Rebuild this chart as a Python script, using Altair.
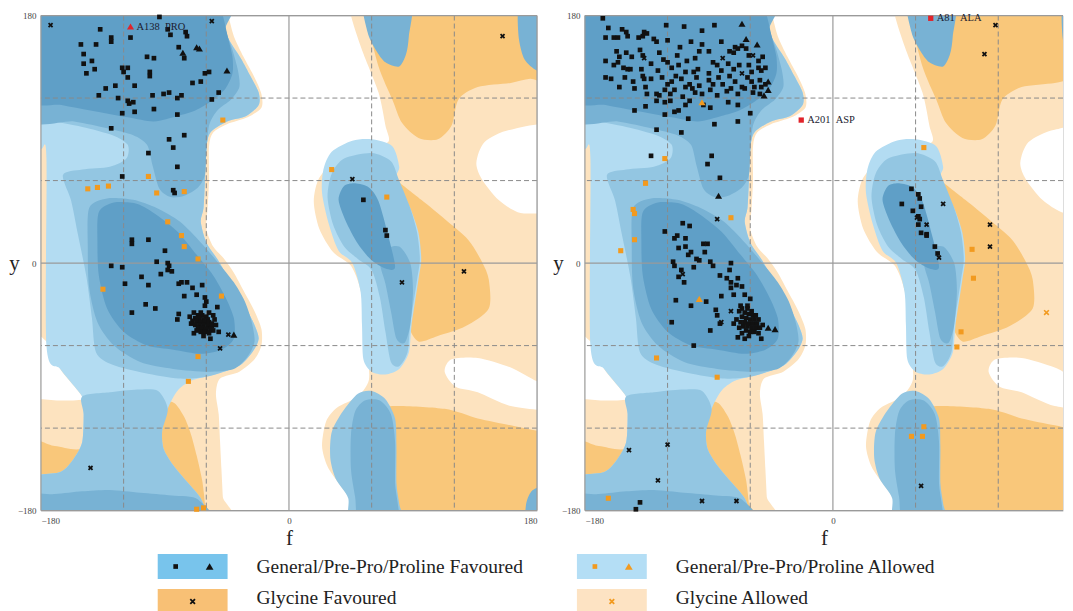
import altair as alt
import pandas as pd

FONT = "Liberation Serif"
C1, C2, C3, C4 = "#b3dcf2", "#93c6e2", "#78b2d4", "#5f9fc7"
PEACH, ORANGE_BG, WHITE = "#fde3bf", "#f9c77a", "#ffffff"
BLACK, ORANGE, RED = "#111111", "#f29a1f", "#e1232a"
SW1, SW2, SW3, SW4 = "#78c4ec", "#b4def5", "#f8c075", "#fde3c3"

# ---------------- background contour regions (phi, psi in degrees) ----------------
gly_allowed_right = [(45,192),(45,180),(53,155),(65,124),(70,100),(72,88),(55,83),(35,75),(22,62),(18,45),(22,25),(32,8),(45,-2),(52,-20),(55,-45),(57,-65),(58,-85),(50,-97),(35,-105),(27,-115),(24,-133),(28,-148),(36,-160),(45,-172),(51,-180),(52,-192),(192,-192),(192,192)]
gly_allowed_left = [(-192,192),(-47,192),(-44,180),(-40,165),(-33,150),(-25,135),(-20,123),(-20,113),(-30,106),(-45,101),(-55,95),(-58,85),(-58,60),(-59,40),(-60,25),(-55,12),(-47,3),(-40,-7),(-33,-20),(-25,-35),(-20,-48),(-20,-60),(-25,-70),(-36,-79),(-50,-84),(-53,-95),(-51,-110),(-50,-130),(-49,-150),(-48,-170),(-47,-192),(-192,-192)]
hole_1 = [(192,97),(161,97),(142,88),(136,73),(140,61),(152,46),(166,37),(180,36),(192,36)]
hole_2 = [(113,-79),(118,-70),(137,-69),(161,-76),(180,-86),(192,-88),(192,-106),(161,-104),(137,-94),(121,-90)]
hole_left = [(-192,-50),(-176,-57),(-166,-77),(-153,-93),(-150,-99),(-165,-100),(-180,-99),(-192,-99)]
gly_fav_top = [(56,192),(56,180),(65,143),(75,119),(82,102),(94,91),(108,90),(118,100),(123,119),(137,128),(161,131),(175,134),(192,134),(192,192)]
gly_fav_mid = [(65,65),(75,62),(96,46),(113,32),(130,17),(140,1),(145,-12),(145,-33),(128,-46),(108,-53),(94,-57),(87,-46),(86,-26),(80,-15),(60,-20),(50,0),(50,40)]
gly_fav_bot = [(75,-104),(113,-106),(137,-113),(161,-118),(180,-122),(192,-123),(192,-192),(60,-192),(60,-110)]
gly_fav_left = [(-92,-100),(-83,-102),(-76,-112),(-71,-125),(-67,-140),(-63,-158),(-61,-175),(-60,-192),(-192,-192),(-192,-131),(-170,-133),(-150,-135),(-120,-120),(-100,-104)]

gen_c1_left = [(-190,192),(-51,192),(-50,180),(-45,165),(-35,149),(-28,136),(-22,124),(-22,115),(-31,107),(-45,103),(-57,95),(-60,83),(-61,59),(-62,40),(-64,30),(-60,15),(-52,3),(-45,-9),(-38,-21),(-31,-33),(-25,-45),(-22,-55),(-26,-64),(-35,-74),(-50,-80),(-62,-83),(-72,-86),(-81,-93),(-88,-106),(-92,-122),(-91,-135),(-84,-147),(-74,-159),(-64,-171),(-60,-183),(-60,-192),(-192,-192),(-192,-158),(-166,-152),(-156,-142),(-150,-130),(-149,-110),(-150,-98),(-153,-93),(-166,-77),(-176,-60),(-176,76),(-180,83),(-192,85)]
gen_c1_blob = [(60,90),(75,85),(80,70),(78,61),(88,40),(94,22),(96,3),(94,-12),(89,-45),(87,-65),(80,-77),(70,-81),(60,-79),(54,-70),(53,-45),(52,-21),(46,0),(36,9),(29,28),(24,51),(25,68),(31,81),(46,89)]
gen_c2_beta = [(-192,192),(-51,192),(-50,180),(-45,165),(-35,149),(-28,136),(-22,124),(-22,115),(-31,107),(-45,103),(-57,95),(-60,83),(-61,59),(-62,40),(-64,30),(-60,15),(-52,3),(-45,-9),(-38,-21),(-31,-33),(-25,-45),(-22,-55),(-26,-64),(-35,-74),(-50,-80),(-62,-83),(-80,-84),(-105,-80),(-128,-74),(-140,-65),(-143,-40),(-147,-10),(-153,20),(-158,45),(-164,64),(-150,68),(-130,70),(-118,76),(-117,86),(-128,93),(-150,99),(-176,104),(-192,106)]
gen_c2_bottom = [(-150,-97),(-130,-94),(-110,-92),(-95,-93),(-88,-106),(-92,-122),(-91,-135),(-84,-147),(-74,-159),(-64,-171),(-60,-183),(-60,-192),(-192,-192),(-192,-158),(-166,-152),(-156,-142),(-150,-130),(-149,-110)]
gen_c2_blob = [(40,76),(60,80),(74,74),(80,60),(88,40),(93,22),(95,3),(93,-12),(88,-45),(86,-65),(80,-75),(74,-72),(70,-50),(66,-25),(60,-5),(50,3),(40,12),(32,28),(28,48),(31,65)]
gen_c2_low = [(50,-95),(60,-93),(70,-99),(77,-113),(78,-133),(78,-160),(80,-175),(82,-192),(45,-192),(43,-171),(34,-157),(30,-142),(31,-123),(39,-108)]
gen_c3_beta = [(-192,192),(-50,192),(-46,170),(-41,155),(-37,140),(-36,128),(-42,119),(-52,111),(-58,100),(-60,80),(-61,64),(-66,55),(-76,49),(-86,48),(-94,54),(-99,71),(-103,86),(-113,93),(-132,98),(-156,103),(-192,107)]
gen_c3_alpha = [(-145,40),(-132,47),(-113,46),(-96,40),(-79,30),(-64,15),(-52,1),(-40,-14),(-32,-28),(-27,-43),(-25,-57),(-30,-68),(-40,-77),(-59,-79),(-84,-77),(-108,-72),(-127,-60),(-139,-43),(-145,-18),(-146,11)]
gen_c3_bottom = [(-192,-169),(-170,-168),(-150,-166),(-130,-165),(-108,-167),(-85,-169),(-66,-172),(-61,-192),(-192,-192)]
gen_c3_blob = [(70,10),(80,12),(88,0),(90,-20),(88,-45),(84,-58),(78,-55),(74,-35),(70,-15),(66,0)]
gen_c3_low = [(55,-100),(66,-100),(74,-110),(77,-130),(77,-160),(79,-192),(52,-192),(48,-170),(45,-150),(45,-125),(48,-108)]
gen_c3_top = [(55,192),(88,192),(87,165),(85,152),(80,143),(70,146),(63,155),(57,168)]
gen_c3_wrap_top = [(168,192),(166,180),(167,162),(171,148),(180,140),(192,139),(192,192)]
gen_c3_wrap_bot = [(173,-192),(172,-176),(176,-166),(184,-162),(192,-162),(192,-192)]
gen_c4_beta = [(-192,192),(-52,192),(-48,180),(-44,163),(-41,150),(-41,138),(-46,127),(-56,118),(-68,111),(-81,107),(-98,103),(-117,106),(-144,111),(-165,115),(-192,121)]
gen_c4_alpha = [(-138,37),(-127,44),(-110,43),(-96,35),(-81,23),(-67,6),(-55,-9),(-46,-25),(-40,-40),(-40,-55),(-49,-63),(-64,-66),(-84,-63),(-103,-60),(-120,-50),(-132,-33),(-138,-9),(-139,15)]
gen_c4_blob = [(48,58),(58,55),(65,45),(72,20),(77,-3),(70,-4),(60,2),(50,14),(41,31),(36,46),(40,56)]

regions = [
    ("gly_allowed", PEACH, [gly_allowed_right, gly_allowed_left]),
    ("holes", WHITE, [hole_1, hole_2, hole_left]),
    ("gly_fav", ORANGE_BG, [gly_fav_top, gly_fav_mid, gly_fav_bot, gly_fav_left]),
    ("c1", C1, [gen_c1_left, gen_c1_blob]),
    ("c2", C2, [gen_c2_beta, gen_c2_bottom, gen_c2_blob, gen_c2_low]),
    ("c3", C3, [gen_c3_beta, gen_c3_alpha, gen_c3_bottom, gen_c3_blob, gen_c3_low, gen_c3_top, gen_c3_wrap_top, gen_c3_wrap_bot]),
    ("c4", C4, [gen_c4_beta, gen_c4_alpha, gen_c4_blob]),
]

# ---------------- residues, left panel ----------------
p1_fav_gen = [(-137,170),(-115,164),(-129,164),(-129,161),(-151,159),(-140,159),(-149,152),(-143,147),(-149,145),(-141,141),(-147,138),(-121,142),(-117,142),(-120,139),(-117,135),(-103,150),(-98,149),(-101,139),(-101,136),(-88,170),(-86,166),(-75,168),(-74,165),(-80,157),(-76,149),(-61,138),(-58,139),(-70,131),(-64,132),(-126,129),(-133,127),(-138,122),(-112,129),(-124,120),(-117,118),(-116,116),(-113,117),(-99,122),(-91,123),(-87,124),(-78,122),(-81,120),(-51,124),(-56,119),(-121,109),(-112,110),(-98,112),(-81,108),(-129,98),(-87,90),(-76,93),(-84,84),(-102,80),(-81,70),(-121,63),(-84,53),(-83,51),(-94,179),
    (-114,17),(-114,14),(-102,17),(-90,9),(-96,1),(-88,0),(-87,-2),(-88,-5),(-85,-6),(-129,-2),(-121,-3),(-107,-10),(-102,-16),(-93,-8),(-119,-15),(-80,-15),(-78,-14),(-74,-14),(-63,-16),(-70,-18),(-67,-23),(-76,-24),(-61,-25),(-104,-30),(-97,-33),(-114,-36),(-80,-37),(-81,-41),(-52,-32),(-61,-31),(-60,-28),(-69,-51),(-55,-49),(-57,-55),(-51,-50),
    (-66,-38),(-63,-38),(-60,-39),(-68,-40),(-65,-40),(-62,-41),(-59,-41),(-70,-42),(-67,-42),(-64,-43),(-61,-43),(-58,-43),(-56,-44),(-71,-44),(-68,-45),(-65,-45),(-62,-45),(-59,-46),(-56,-46),(-66,-47),(-63,-47),(-60,-48),(-57,-48),(-64,-50),(-61,-50),(-67,-49),(-58,-51),(-62,-53),(-72,-39),(-54,-41),(-64,-36),(-58,-36),(-69,-36),(-55,-38),(-53,-45),
    (54,46),(70,24),(71,20)]
p1_fav_pro = [(-77,153),(-67,157),(-65,156),(-45,140),(-40,-52)]
p1_fav_gly = [(-173,173),(-56,176),(-44,-52),(-50,-62),(-144,-149),(46,61),(155,165),(82,-14),(127,-6)]
p1_alw_gen = [(-48,104),(-102,63),(-146,54),(-139,55),(-131,56),(-96,51),(-76,52),(-88,30),(-78,20),(-76,12),(-66,3),(-135,-19),(-49,-24),(-66,-68),(-73,-86),(-67,-179),(-62,-178),(31,68),(71,48)]
p1_alw_pro = []
p1_alw_gly = []
p1_out_gen = []
p1_out_pro = [(-115,172)]
p1_out_labels = ["A138\u00a0\u00a0PRO"]

# ---------------- residues, right panel ----------------
p2_fav_gen = [(-167,178),(-163,171),(-153,170),(-150,168),(-137,168),(-135,167),(-121,173),(-108,172),(-95,169),(-86,173),
    (-165,164),(-159,164),(-156,164),(-149,165),(-141,164),(-138,165),(-130,163),(-128,161),(-120,162),(-111,157),(-103,161),(-95,159),(-81,161),(-71,157),(-66,158),(-63,156),
    (-157,154),(-155,150),(-150,153),(-146,150),(-140,155),(-138,151),(-126,153),(-123,148),(-113,151),(-106,147),(-100,149),(-97,154),(-90,154),(-87,146),(-75,154),(-72,153),(-69,156),(-61,151),(-54,147),(-51,150),
    (-165,147),(-159,144),(-156,146),(-152,142),(-149,141),(-147,141),(-139,141),(-138,136),(-132,145),(-127,140),(-120,146),(-117,142),(-112,144),(-107,139),(-101,139),(-98,141),(-90,138),(-84,144),(-81,140),(-76,145),(-72,141),(-68,144),(-61,144),(-59,139),(-54,142),(-52,140),(-49,142),
    (-165,135),(-161,134),(-155,128),(-151,135),(-145,132),(-137,134),(-136,128),(-132,134),(-124,135),(-120,130),(-117,132),(-114,136),(-110,134),(-107,128),(-104,130),(-99,135),(-97,129),(-90,133),(-87,130),(-83,135),(-80,130),(-75,136),(-71,132),(-66,128),(-62,135),(-59,132),(-57,128),(-53,133),(-49,130),
    (-144,127),(-135,123),(-128,123),(-126,122),(-122,126),(-118,123),(-115,126),(-109,121),(-102,127),(-100,124),(-95,123),(-89,126),(-84,122),(-77,125),(-74,127),(-69,123),(-64,127),(-58,124),(-53,123),(-52,128),
    (-144,111),(-136,114),(-128,118),(-122,117),(-118,118),(-115,110),(-112,111),(-107,115),(-104,118),(-94,115),(-89,113),(-76,117),(-69,115),(-60,109),
    (-128,97),(-122,108),(-110,95),(-105,105),(-86,101),(-69,103),(-132,78),(-88,78),(-91,72),(-82,62),
    (-109,29),(-104,27),(-122,23),(-113,20),(-115,18),(-107,18),(-107,12),(-103,8),(-112,11),(-105,6),(-99,3),(-94,14),(-91,14),(-93,8),(-116,1),(-115,-2),(-110,-5),(-112,-10),(-108,-14),(-101,-3),(-97,2),(-89,1),(-87,-2),(-82,-9),(-74,0),(-75,-5),(-77,-11),(-74,-14),(-69,-11),(-70,-16),(-66,-17),(-74,-18),(-72,-23),(-64,-23),(-60,-26),(-66,-33),(-62,-31),(-114,-27),(-103,-31),(-92,-28),(-81,-24),(-84,-38),(-82,-44),(-117,-43),(-89,-49),(-69,-54),(-52,-55),(-101,-60),(-85,-34),(-54,-41),(-51,-45),
    (-68,-35),(-64,-36),(-61,-37),(-58,-38),(-66,-39),(-63,-40),(-60,-41),(-57,-41),(-70,-41),(-67,-43),(-64,-43),(-61,-44),(-58,-44),(-55,-44),(-65,-46),(-62,-46),(-59,-47),(-56,-47),(-68,-47),(-63,-49),(-60,-50),(-57,-50),(-66,-51),(-61,-53),(-53,-47),(-72,-44),(-56,-38),(-62,-33),(-67,-31),(-59,-35),(-54,-51),(-64,-55),
    (-140,-174),(-143,-179),
    (57,54),(50,43),(62,50),(63,47),(64,41),(58,38),(62,34),(63,32),(62,28),(64,22),(68,21),(68,20),(74,12),(76,7)]
p2_fav_pro = [(-66,174),(-63,163),(-55,159),(-47,132),(-47,126),(-50,122),(-83,49),(-47,-47),(-42,-48)]
p2_fav_gly = [(-137,149),(-80,149),(-58,151),(-66,138),(-84,32),(-74,-35),(-81,-43),(-109,-8),(-148,-136),(-120,-132),(-127,-158),(-95,-173),(-70,-173),(118,173),(110,152),(61,33),(68,28),(80,43),(77,4),(114,28),(114,12),(64,-162)]
p2_alw_gen = [(-122,76),(-136,58),(-145,39),(-144,36),(-144,17),(-154,9),(-74,33),(-128,-69),(-84,-83),(-163,-171),(66,84),(101,10),(102,-11),(93,-50),(90,-61),(66,-119),(57,-126),(65,-126)]
p2_alw_pro = [(-95,117),(-97,-26)]
p2_alw_gly = [(155,-36)]
p2_out_gen = [(71,178),(-23,104)]
p2_out_pro = []
p2_out_labels = ["A81\u00a0\u00a0ALA", "A201\u00a0\u00a0ASP"]

# ---------------- legend ----------------
legend_labels = ["General/Pre-Pro/Proline Favoured", "General/Pre-Pro/Proline Allowed", "Glycine Favoured", "Glycine Allowed"]
legend_col = [0, 1, 0, 1]
legend_row = [0, 0, 1, 1]
legend_fill = [SW1, SW2, SW3, SW4]
sym_col = [0, 0, 1, 1, 0, 1]
sym_row = [0, 0, 0, 0, 1, 1]
sym_kind = ["sq", "tri", "sq", "tri", "x", "x"]
sym_color = [BLACK, BLACK, ORANGE, ORANGE, BLACK, ORANGE]

grid_dashed = [-120, -60, 60, 120]
grid_solid = [0]

XSHAPE = "M-1,-1L1,1M-1,1L1,-1"

# ---------------- build tables ----------------
rows = []
for name, color, polys in regions:
    for pi, pts in enumerate(polys):
        for vi, (a, b) in enumerate(pts):
            rows.append({"level": name, "poly": f"{name}_{pi}", "v": vi, "phi": a, "psi": b})
bg = pd.DataFrame(rows)


def residue_table(groups):
    out = []
    for kind, pts in groups.items():
        for a, b in pts:
            out.append({"kind": kind, "phi": a, "psi": b})
    return pd.DataFrame(out, columns=["kind", "phi", "psi"])


def axis_common(**kw):
    return alt.Axis(grid=False, ticks=False, domain=False,
                    labelFont=FONT, labelFontSize=9, labelColor="#444",
                    titleFont=FONT, titleFontSize=21, titleFontWeight="normal", titleColor="#222", **kw)


H = 496
y_enc = alt.Y("psi:Q", scale=alt.Scale(domain=[-180, 180], nice=False, zero=False),
              axis=axis_common(values=[-180, 0, 180], title="y", labelPadding=5, titleAngle=0,
                               titleAlign="center", titleBaseline="middle", titleX=-27, titleY=H / 2))


def panel(groups, out_pts, out_labels, xmax, width, xticks, xborder):
    x_enc = alt.X("phi:Q", scale=alt.Scale(domain=[-180, xmax], nice=False, zero=False),
                  axis=axis_common(values=xticks, title="f", labelPadding=6, titlePadding=2))
    layers = []
    for name, color, _ in regions:
        layers.append(
            alt.Chart(bg).transform_filter(alt.datum.level == name)
            .mark_line(fill=color, strokeOpacity=0, strokeWidth=0, interpolate="cardinal-closed", tension=0.2, clip=True)
            .encode(x=x_enc, y=y_enc, detail="poly:N", order="v:Q")
        )
    layers.append(alt.Chart(pd.DataFrame({"phi": grid_dashed})).mark_rule(color="#8a8a8a", strokeDash=[5, 3], strokeWidth=1, clip=True).encode(x=x_enc))
    layers.append(alt.Chart(pd.DataFrame({"psi": grid_dashed})).mark_rule(color="#8a8a8a", strokeDash=[5, 3], strokeWidth=1).encode(y=y_enc))
    layers.append(alt.Chart(pd.DataFrame({"phi": grid_solid + xborder})).mark_rule(color="#9a9a9a", strokeWidth=1.2).encode(x=x_enc))
    layers.append(alt.Chart(pd.DataFrame({"psi": grid_solid + [-180, 180]})).mark_rule(color="#9a9a9a", strokeWidth=1.2).encode(y=y_enc))

    res = residue_table(groups)
    spec = [
        ("fav_gen", lambda c: c.mark_square(size=22, color=BLACK, opacity=1)),
        ("fav_pro", lambda c: c.mark_point(shape="triangle-up", filled=True, size=50, color=BLACK, opacity=1)),
        ("fav_gly", lambda c: c.mark_point(shape=XSHAPE, filled=False, size=16, strokeWidth=1.8, color=BLACK, opacity=1)),
        ("alw_gen", lambda c: c.mark_square(size=26, color=ORANGE, opacity=1)),
        ("alw_pro", lambda c: c.mark_point(shape="triangle-up", filled=True, size=50, color=ORANGE, opacity=1)),
        ("alw_gly", lambda c: c.mark_point(shape=XSHAPE, filled=False, size=22, strokeWidth=1.6, color=ORANGE, opacity=1)),
        ("out_gen", lambda c: c.mark_square(size=28, color=RED, opacity=1)),
        ("out_pro", lambda c: c.mark_point(shape="triangle-up", filled=True, size=50, color=RED, opacity=1)),
    ]
    for kind, mk in spec:
        if (res["kind"] == kind).any():
            layers.append(mk(alt.Chart(res).transform_filter(alt.datum.kind == kind)).encode(x=x_enc, y=y_enc))
    lab = pd.DataFrame({"phi": [p[0] for p in out_pts], "psi": [p[1] for p in out_pts], "label": out_labels})
    layers.append(alt.Chart(lab).mark_text(align="left", baseline="middle", dx=6, font=FONT, fontSize=10.5, color="#1c1c30")
                  .encode(x=x_enc, y=y_enc, text="label:N"))
    return alt.layer(*layers).properties(width=width, height=H)


left = panel({"fav_gen": p1_fav_gen, "fav_pro": p1_fav_pro, "fav_gly": p1_fav_gly, "alw_gen": p1_alw_gen,
              "alw_pro": p1_alw_pro, "alw_gly": p1_alw_gly, "out_gen": p1_out_gen, "out_pro": p1_out_pro},
             p1_out_pro, p1_out_labels, 180, 497, [-180, 0, 180], [-180, 180])
# the right-hand plot is cut by the picture's edge just short of phi = 180
right = panel({"fav_gen": p2_fav_gen, "fav_pro": p2_fav_pro, "fav_gly": p2_fav_gly, "alw_gen": p2_alw_gen,
               "alw_pro": p2_alw_pro, "alw_gly": p2_alw_gly, "out_gen": p2_out_gen, "out_pro": p2_out_pro},
              p2_out_gen, p2_out_labels, 167, 479, [-180, 0], [-180])

# legend
leg = pd.DataFrame({"label": legend_labels, "col": legend_col, "row": legend_row, "fill": legend_fill})
sym = pd.DataFrame({"col": sym_col, "row": sym_row, "kind": sym_kind, "color": sym_color})
lx = alt.X("col:Q", scale=alt.Scale(domain=[0, 1], range=[152, 572]), axis=None)
ly = alt.Y("row:Q", scale=alt.Scale(domain=[0, 1], range=[15, 50]), axis=None)
RECT = "M-1.4,-0.5L1.4,-0.5L1.4,0.5L-1.4,0.5Z"
legend = alt.layer(
    alt.Chart(leg).mark_point(shape=RECT, size=2500, filled=True, opacity=1, strokeWidth=0)
        .encode(x=lx, y=ly, color=alt.Color("fill:N", scale=None)),
    alt.Chart(leg).transform_filter(alt.datum.row == 0)
        .mark_text(align="left", baseline="middle", dx=64, font=FONT, fontSize=19.5, color="#222")
        .encode(x=lx, y=ly, text="label:N"),
    alt.Chart(leg).transform_filter(alt.datum.row == 1)
        .mark_text(align="left", baseline="middle", dx=64, dy=-3, font=FONT, fontSize=19.5, color="#222")
        .encode(x=lx, y=ly, text="label:N"),
    alt.Chart(sym).transform_filter(alt.datum.kind == "sq").mark_square(size=22, xOffset=-17, opacity=1)
        .encode(x=lx, y=ly, color=alt.Color("color:N", scale=None)),
    alt.Chart(sym).transform_filter(alt.datum.kind == "tri").mark_point(shape="triangle-up", filled=True, size=60, xOffset=17, opacity=1)
        .encode(x=lx, y=ly, color=alt.Color("color:N", scale=None)),
    alt.Chart(sym).transform_filter(alt.datum.kind == "x").mark_point(shape=XSHAPE, filled=False, size=22, strokeWidth=1.8, opacity=1)
        .encode(x=lx, y=ly, stroke=alt.Stroke("color:N", scale=None)),
).properties(width=900, height=62, view=alt.ViewBackground(strokeOpacity=0))

top = alt.hconcat(left, right, spacing=13)
chart = alt.vconcat(top, legend, spacing=2).properties(
    padding={"left": 0, "top": 2, "right": 0, "bottom": 0}
).configure_view(strokeOpacity=0).configure(font=FONT)

chart.save("out.html", embed_options={"renderer": "svg", "actions": False})
